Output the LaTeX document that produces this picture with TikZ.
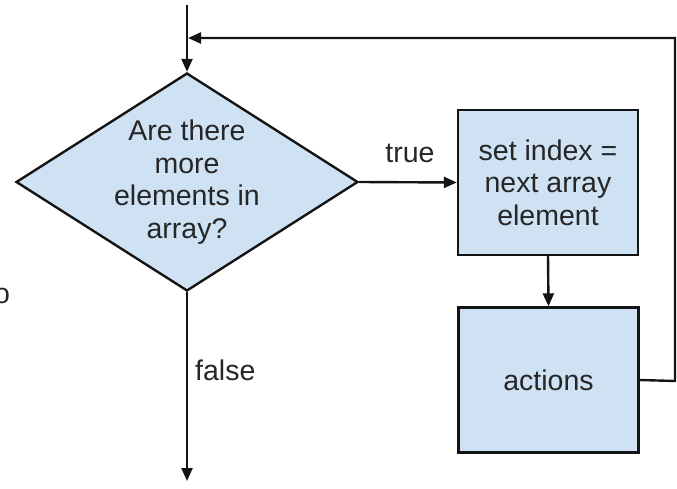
\documentclass[tikz,border=0pt]{standalone}
\usepackage{fontspec}
\setmainfont{Liberation Sans}
\usetikzlibrary{arrows.meta,shapes.geometric}

\definecolor{boxblue}{HTML}{CFE2F3}
\definecolor{edgegray}{HTML}{141414}

\tikzset{
  flow/.style={line width=2.4pt,draw=edgegray},
  decision/.style={flow,diamond,fill=boxblue,aspect=1.57,inner sep=0pt,
    minimum width=342pt,minimum height=218pt,align=center},
  process/.style={flow,rectangle,fill=boxblue,inner sep=0pt,
    minimum width=180pt,minimum height=145pt,align=center},
  arr/.style={flow,-{Triangle[length=13pt,width=11pt]}},
  lbl/.style={inner sep=0pt}
}

\begin{document}
\begin{tikzpicture}[x=1pt,y=-1pt,font=\fontsize{28.5}{32.5}\selectfont,
  text=black!85]
\useasboundingbox (0,0) rectangle (677,489);

% loop test and body
\node[decision] (test) at (187,182) {Are there\\more\\elements in\\array?};
\node[process] (next) at (548,182.5) {set index =\\next array\\element};
\node[process] (act) at (548.5,380) {actions};

% free ends
\coordinate (entry) at (187,5);
\coordinate (exit) at (187,481);
\coordinate (back1) at (675,381);
\coordinate (back2) at (675,38);
\coordinate (join) at (188,38);

\draw[arr] (entry) -- (test.north);
\draw[arr] (test.east) -- (next.west);
\draw[arr] (next.south) -- (act.north);
\draw[arr] (test.south) -- (exit);
\draw[arr] (act.east) -- (back1) -- (back2) -- (join);

% branch labels
\node[lbl] (truelbl) at (410,153) {true};
\node[lbl,anchor=west] (falselbl) at (195,370) {false};

% cut-off letter at the left edge
\node[lbl,anchor=base] (cut) at (2,303) {o};

\end{tikzpicture}
\end{document}
